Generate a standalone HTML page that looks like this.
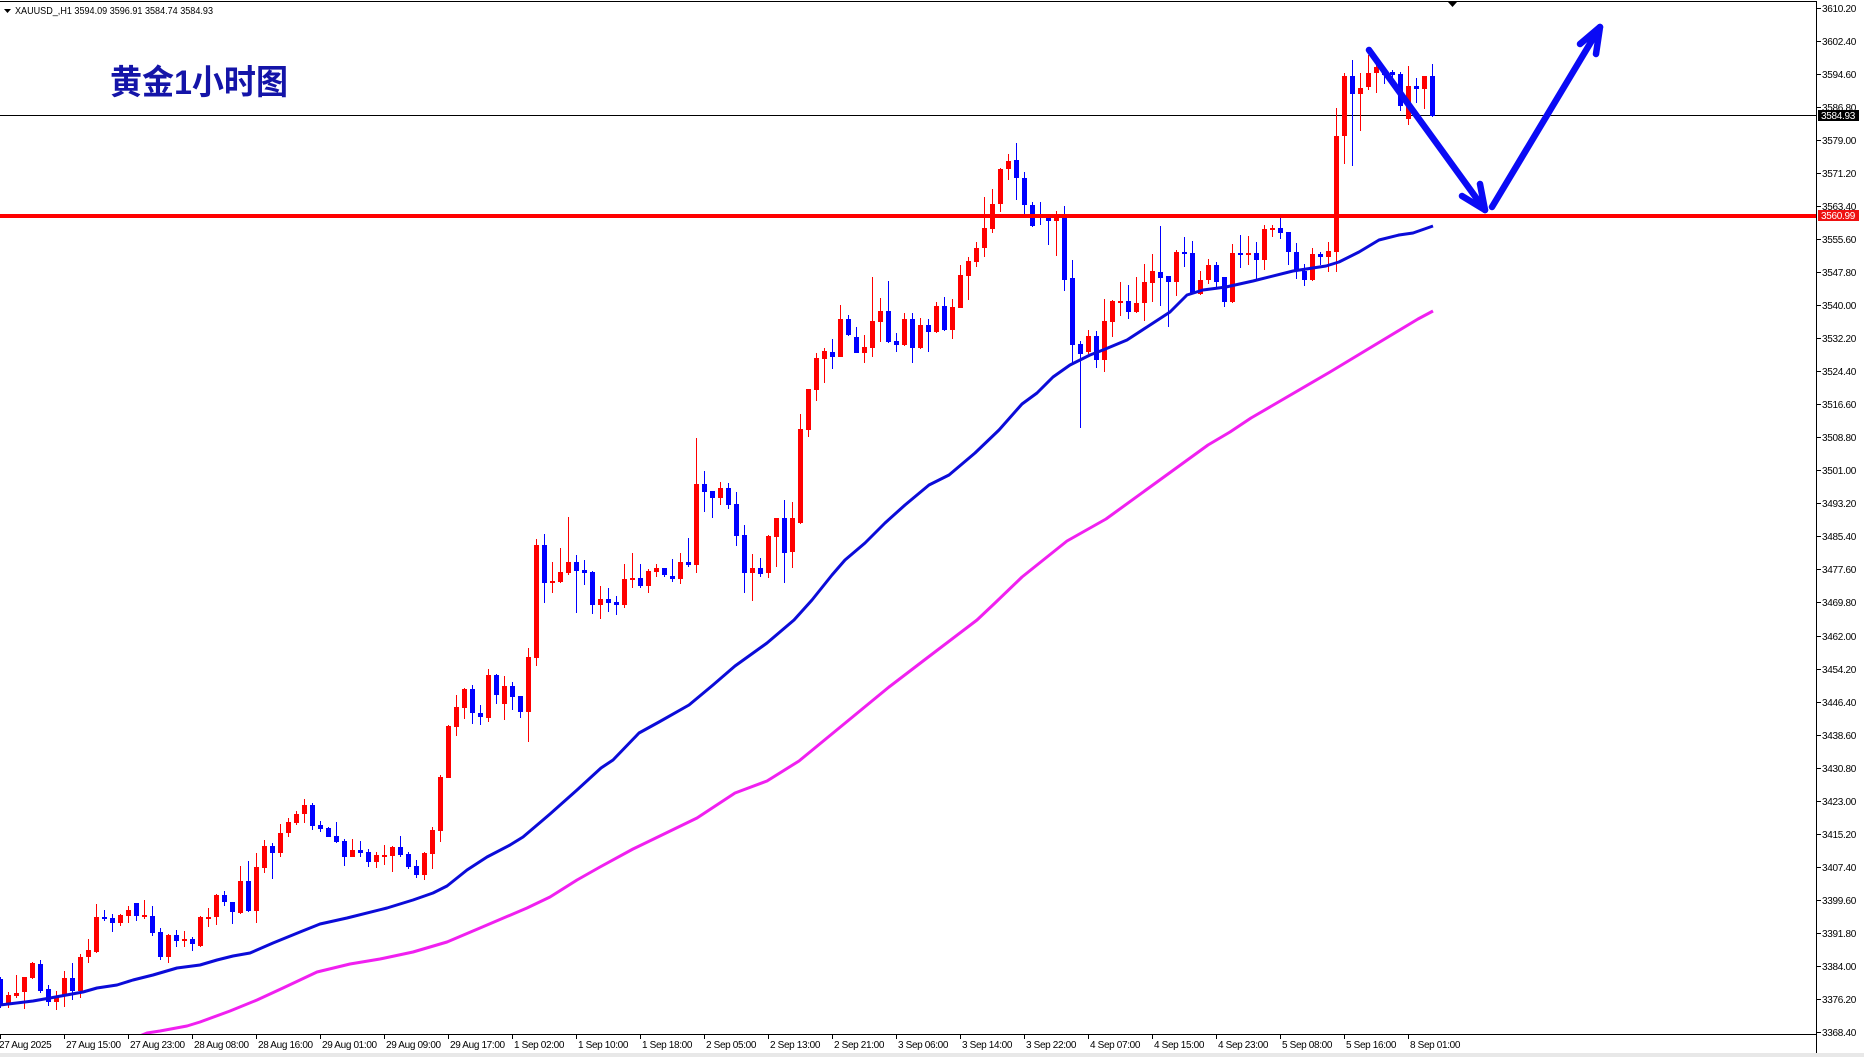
<!DOCTYPE html>
<html><head><meta charset="utf-8"><style>
html,body{margin:0;padding:0;background:#fff;}
svg{display:block;}
.ax{font-family:"Liberation Sans",sans-serif;font-size:10px;fill:#000;letter-spacing:-0.35px;}
.px{font-family:"Liberation Sans",sans-serif;font-size:10px;fill:#000;letter-spacing:-0.3px;}
</style></head><body>
<svg width="1864" height="1057" viewBox="0 0 1864 1057" xmlns="http://www.w3.org/2000/svg">
<defs><clipPath id="c"><rect x="0" y="2" width="1816" height="1032"/></clipPath></defs>
<rect width="1864" height="1057" fill="#fff"/>
<rect x="0" y="1053" width="1864" height="4" fill="#e8e8e8"/>

<!-- frame -->
<rect x="0" y="1" width="1817" height="1" fill="#000"/>
<rect x="1816" y="1" width="1" height="1052" fill="#000"/>
<rect x="0" y="1034" width="1817" height="1" fill="#000"/>
<polygon points="1448,2 1457,2 1452.5,7" fill="#000"/>

<!-- header -->
<polygon points="4,9 11,9 7.5,13" fill="#000"/>
<text x="15" y="14" font-family="Liberation Sans,sans-serif" font-size="10" textLength="198" lengthAdjust="spacingAndGlyphs">XAUUSD_,H1  3594.09 3596.91 3584.74 3584.93</text>
<text x="110" y="94" font-family="'Liberation Sans','Noto Sans CJK SC',sans-serif" font-size="34" font-weight="bold" fill="#1414a8" textLength="178" lengthAdjust="spacingAndGlyphs">黄金1小时图</text>

<g clip-path="url(#c)">
<!-- current price line -->
<rect x="0" y="115" width="1816" height="1" fill="#000"/>

<!-- red candles -->
<path fill="#ff0000" d="M8 992h1v16h-1zM6 995h5v8h-5zM16 975h1v23h-1zM14 993h5v3h-5zM24 977h1v32h-1zM22 977h5v15h-5zM32 962h1v17h-1zM30 963h5v15h-5zM56 991h1v19h-1zM54 997h5v5h-5zM64 971h1v36h-1zM62 978h5v17h-5zM80 954h1v44h-1zM78 957h5v34h-5zM88 939h1v24h-1zM86 950h5v7h-5zM96 904h1v49h-1zM94 917h5v35h-5zM120 914h1v12h-1zM118 915h5v8h-5zM128 906h1v17h-1zM126 910h5v6h-5zM144 900h1v19h-1zM142 915h5v2h-5zM168 934h1v29h-1zM166 935h5v22h-5zM184 931h1v16h-1zM182 939h5v2h-5zM200 916h1v31h-1zM198 917h5v29h-5zM208 908h1v19h-1zM206 917h5v2h-5zM216 894h1v31h-1zM214 895h5v22h-5zM240 866h1v48h-1zM238 881h5v32h-5zM256 853h1v70h-1zM254 867h5v44h-5zM264 840h1v33h-1zM262 846h5v22h-5zM280 824h1v33h-1zM278 833h5v20h-5zM288 818h1v19h-1zM286 822h5v11h-5zM296 811h1v14h-1zM294 814h5v9h-5zM304 799h1v24h-1zM302 805h5v9h-5zM352 839h1v18h-1zM350 850h5v7h-5zM376 852h1v16h-1zM374 855h5v7h-5zM384 845h1v20h-1zM382 855h5v2h-5zM392 846h1v26h-1zM390 847h5v9h-5zM424 852h1v28h-1zM422 853h5v22h-5zM432 827h1v42h-1zM430 830h5v24h-5zM440 775h1v67h-1zM438 777h5v54h-5zM448 725h1v53h-1zM446 726h5v52h-5zM456 695h1v41h-1zM454 707h5v20h-5zM464 688h1v31h-1zM462 689h5v19h-5zM488 669h1v53h-1zM486 675h5v43h-5zM504 676h1v44h-1zM502 686h5v18h-5zM528 648h1v94h-1zM526 657h5v55h-5zM536 539h1v127h-1zM534 545h5v113h-5zM552 562h1v31h-1zM550 581h5v2h-5zM560 548h1v35h-1zM558 572h5v10h-5zM568 517h1v58h-1zM566 562h5v11h-5zM600 586h1v33h-1zM598 599h5v6h-5zM624 564h1v44h-1zM622 579h5v26h-5zM632 553h1v35h-1zM630 578h5v2h-5zM648 569h1v24h-1zM646 571h5v15h-5zM656 564h1v13h-1zM654 568h5v4h-5zM680 553h1v31h-1zM678 562h5v17h-5zM696 438h1v135h-1zM694 484h5v81h-5zM720 482h1v23h-1zM718 488h5v10h-5zM752 554h1v47h-1zM750 568h5v5h-5zM768 535h1v43h-1zM766 536h5v37h-5zM776 518h1v49h-1zM774 518h5v19h-5zM792 502h1v66h-1zM790 518h5v34h-5zM800 414h1v110h-1zM798 429h5v94h-5zM808 389h1v48h-1zM806 389h5v41h-5zM816 353h1v48h-1zM814 358h5v32h-5zM824 348h1v35h-1zM822 351h5v8h-5zM840 305h1v52h-1zM838 319h5v38h-5zM864 335h1v28h-1zM862 347h5v6h-5zM872 277h1v80h-1zM870 321h5v27h-5zM880 298h1v44h-1zM878 311h5v11h-5zM904 313h1v33h-1zM902 319h5v26h-5zM920 318h1v31h-1zM918 325h5v23h-5zM936 302h1v31h-1zM934 306h5v26h-5zM952 299h1v40h-1zM950 307h5v23h-5zM960 265h1v43h-1zM958 275h5v33h-5zM968 257h1v43h-1zM966 261h5v15h-5zM976 242h1v25h-1zM974 248h5v14h-5zM984 197h1v60h-1zM982 228h5v20h-5zM992 189h1v44h-1zM990 204h5v25h-5zM1000 168h1v44h-1zM998 169h5v35h-5zM1008 154h1v26h-1zM1006 161h5v8h-5zM1056 211h1v45h-1zM1054 216h5v5h-5zM1088 330h1v24h-1zM1086 336h5v16h-5zM1104 299h1v73h-1zM1102 321h5v39h-5zM1112 300h1v37h-1zM1110 301h5v21h-5zM1120 282h1v34h-1zM1118 301h5v2h-5zM1136 277h1v36h-1zM1134 303h5v9h-5zM1144 264h1v57h-1zM1142 282h5v21h-5zM1152 254h1v48h-1zM1150 271h5v12h-5zM1176 250h1v46h-1zM1174 252h5v30h-5zM1200 271h1v24h-1zM1198 280h5v14h-5zM1208 259h1v25h-1zM1206 265h5v15h-5zM1232 244h1v59h-1zM1230 253h5v49h-5zM1248 236h1v29h-1zM1246 253h5v2h-5zM1264 225h1v45h-1zM1262 229h5v31h-5zM1272 225h1v12h-1zM1270 228h5v2h-5zM1312 248h1v33h-1zM1310 254h5v26h-5zM1328 242h1v30h-1zM1326 251h5v6h-5zM1336 108h1v164h-1zM1334 136h5v116h-5zM1344 73h1v91h-1zM1342 76h5v60h-5zM1360 73h1v58h-1zM1358 88h5v6h-5zM1368 55h1v35h-1zM1366 73h5v14h-5zM1376 58h1v35h-1zM1374 67h5v6h-5zM1408 66h1v59h-1zM1406 86h5v33h-5zM1424 76h1v33h-1zM1422 76h5v13h-5z"/>

<!-- blue candles -->
<path fill="#0000ff" d="M0 977h1v31h-1zM-2 979h5v26h-5zM40 960h1v33h-1zM38 964h5v27h-5zM48 985h1v21h-1zM46 989h5v13h-5zM72 963h1v37h-1zM70 978h5v13h-5zM104 910h1v11h-1zM102 917h5v2h-5zM112 914h1v18h-1zM110 918h5v5h-5zM136 903h1v18h-1zM134 903h5v13h-5zM152 906h1v30h-1zM150 916h5v17h-5zM160 928h1v32h-1zM158 932h5v25h-5zM176 930h1v17h-1zM174 935h5v6h-5zM192 937h1v14h-1zM190 939h5v5h-5zM224 891h1v15h-1zM222 895h5v7h-5zM232 902h1v22h-1zM230 902h5v10h-5zM248 861h1v51h-1zM246 881h5v30h-5zM272 843h1v36h-1zM270 846h5v7h-5zM312 803h1v27h-1zM310 805h5v21h-5zM320 821h1v11h-1zM318 825h5v4h-5zM328 827h1v10h-1zM326 828h5v9h-5zM336 822h1v21h-1zM334 836h5v6h-5zM344 839h1v27h-1zM342 841h5v16h-5zM360 841h1v16h-1zM358 850h5v3h-5zM368 849h1v18h-1zM366 852h5v10h-5zM400 836h1v21h-1zM398 847h5v8h-5zM408 852h1v17h-1zM406 854h5v13h-5zM416 860h1v18h-1zM414 866h5v9h-5zM472 685h1v39h-1zM470 689h5v24h-5zM480 705h1v20h-1zM478 713h5v4h-5zM496 674h1v30h-1zM494 675h5v20h-5zM512 682h1v28h-1zM510 686h5v11h-5zM520 696h1v22h-1zM518 696h5v16h-5zM544 534h1v69h-1zM542 545h5v38h-5zM576 555h1v58h-1zM574 562h5v9h-5zM584 560h1v25h-1zM582 570h5v3h-5zM592 571h1v43h-1zM590 572h5v33h-5zM608 588h1v24h-1zM606 599h5v4h-5zM616 596h1v19h-1zM614 602h5v3h-5zM640 564h1v24h-1zM638 578h5v8h-5zM664 568h1v9h-1zM662 568h5v7h-5zM672 559h1v23h-1zM670 576h5v3h-5zM688 538h1v29h-1zM686 562h5v3h-5zM704 471h1v41h-1zM702 484h5v8h-5zM712 491h1v27h-1zM710 491h5v7h-5zM728 483h1v26h-1zM726 488h5v17h-5zM736 492h1v54h-1zM734 504h5v32h-5zM744 525h1v68h-1zM742 535h5v38h-5zM760 558h1v19h-1zM758 568h5v6h-5zM784 500h1v83h-1zM782 518h5v35h-5zM832 339h1v30h-1zM830 352h5v5h-5zM848 315h1v21h-1zM846 319h5v16h-5zM856 327h1v26h-1zM854 337h5v16h-5zM888 281h1v62h-1zM886 311h5v31h-5zM896 333h1v19h-1zM894 341h5v4h-5zM912 313h1v50h-1zM910 319h5v29h-5zM928 319h1v33h-1zM926 325h5v7h-5zM944 297h1v34h-1zM942 306h5v24h-5zM1016 143h1v57h-1zM1014 160h5v18h-5zM1024 172h1v43h-1zM1022 178h5v27h-5zM1032 202h1v25h-1zM1030 205h5v21h-5zM1040 202h1v23h-1zM1038 216h5v2h-5zM1048 215h1v30h-1zM1046 218h5v3h-5zM1064 206h1v85h-1zM1062 217h5v63h-5zM1072 260h1v103h-1zM1070 278h5v67h-5zM1080 341h1v87h-1zM1078 344h5v10h-5zM1096 331h1v37h-1zM1094 336h5v24h-5zM1128 285h1v34h-1zM1126 301h5v11h-5zM1160 226h1v80h-1zM1158 272h5v6h-5zM1168 276h1v51h-1zM1166 276h5v6h-5zM1184 237h1v30h-1zM1182 252h5v2h-5zM1192 241h1v53h-1zM1190 253h5v41h-5zM1216 262h1v25h-1zM1214 265h5v17h-5zM1224 277h1v30h-1zM1222 277h5v25h-5zM1240 235h1v33h-1zM1238 253h5v2h-5zM1256 242h1v37h-1zM1254 253h5v7h-5zM1280 218h1v21h-1zM1278 228h5v5h-5zM1288 232h1v33h-1zM1286 232h5v20h-5zM1296 243h1v36h-1zM1294 252h5v19h-5zM1304 264h1v22h-1zM1302 271h5v9h-5zM1320 252h1v13h-1zM1318 254h5v3h-5zM1352 60h1v106h-1zM1350 76h5v18h-5zM1384 68h1v16h-1zM1382 72h5v3h-5zM1392 70h1v10h-1zM1390 72h5v3h-5zM1400 72h1v39h-1zM1398 74h5v32h-5zM1416 78h1v25h-1zM1414 86h5v3h-5zM1432 64h1v53h-1zM1430 76h5v40h-5z"/>

<!-- moving averages -->
<polyline fill="none" stroke="#f020f0" stroke-width="3" stroke-linejoin="round" points="120,1045 130,1040 147,1033 160,1031 187,1026 200,1022 230,1011 257,1000 283,988 317,972 350,964 380,959 413,952 447,942 480,928 527,908 550,897 577,880 600,867 633,849 697,818 735,793 767,781 799,761 844,724 889,687 927,658 977,620 995,603 1022,577 1067,541 1106,519 1157,482 1208,445 1230,432 1251,418 1330,372 1418,319 1433,311"/>
<polyline fill="none" stroke="#0b0bd8" stroke-width="3" stroke-linejoin="round" points="0,1005 33,1001 50,998 83,992 97,988 117,985 133,980 153,975 177,968 200,965 217,960 233,956 250,953 273,943 300,932 320,924 347,918 387,908 413,900 433,893 447,886 467,870 487,857 510,845 523,837 543,820 550,814 577,790 601,768 613,760 639,733 659,722 689,705 713,685 735,666 767,643 794,620 812,600 832,575 845,560 865,543 885,523 905,505 929,485 949,475 975,453 999,430 1022,404 1037,393 1053,377 1070,365 1090,355 1103,350 1127,340 1147,327 1170,312 1187,295 1203,290 1226,287 1253,281 1293,271 1326,266 1339,262 1359,252 1379,240 1399,235 1413,233 1433,226"/>
</g>

<!-- support line -->
<rect x="0" y="214" width="1816" height="4" fill="#ff0000"/>

<!-- arrows -->
<g fill="none" stroke="#0a0af5" stroke-width="6.5" stroke-linecap="round" stroke-linejoin="round">
<path d="M1369 50L1485 210"/>
<path d="M1462 196L1485 210L1480 184"/>
<path d="M1492 207L1600 27"/>
<path d="M1580 44L1600 27L1596 54"/>
</g>

<!-- price axis -->
<g fill="#000">
<rect x="1817" y="8" width="4" height="1"/><rect x="1817" y="41" width="4" height="1"/><rect x="1817" y="74" width="4" height="1"/><rect x="1817" y="107" width="4" height="1"/><rect x="1817" y="140" width="4" height="1"/><rect x="1817" y="173" width="4" height="1"/><rect x="1817" y="206" width="4" height="1"/><rect x="1817" y="239" width="4" height="1"/><rect x="1817" y="272" width="4" height="1"/><rect x="1817" y="305" width="4" height="1"/><rect x="1817" y="338" width="4" height="1"/><rect x="1817" y="371" width="4" height="1"/><rect x="1817" y="404" width="4" height="1"/><rect x="1817" y="437" width="4" height="1"/><rect x="1817" y="470" width="4" height="1"/><rect x="1817" y="503" width="4" height="1"/><rect x="1817" y="536" width="4" height="1"/><rect x="1817" y="569" width="4" height="1"/><rect x="1817" y="602" width="4" height="1"/><rect x="1817" y="636" width="4" height="1"/><rect x="1817" y="669" width="4" height="1"/><rect x="1817" y="702" width="4" height="1"/><rect x="1817" y="735" width="4" height="1"/><rect x="1817" y="768" width="4" height="1"/><rect x="1817" y="801" width="4" height="1"/><rect x="1817" y="834" width="4" height="1"/><rect x="1817" y="867" width="4" height="1"/><rect x="1817" y="900" width="4" height="1"/><rect x="1817" y="933" width="4" height="1"/><rect x="1817" y="966" width="4" height="1"/><rect x="1817" y="999" width="4" height="1"/><rect x="1817" y="1032" width="4" height="1"/>
</g>
<g class="px">
<text x="1822" y="12">3610.20</text><text x="1822" y="45">3602.40</text><text x="1822" y="78">3594.60</text><text x="1822" y="111">3586.80</text><text x="1822" y="144">3579.00</text><text x="1822" y="177">3571.20</text><text x="1822" y="210">3563.40</text><text x="1822" y="243">3555.60</text><text x="1822" y="276">3547.80</text><text x="1822" y="309">3540.00</text><text x="1822" y="342">3532.20</text><text x="1822" y="375">3524.40</text><text x="1822" y="408">3516.60</text><text x="1822" y="441">3508.80</text><text x="1822" y="474">3501.00</text><text x="1822" y="507">3493.20</text><text x="1822" y="540">3485.40</text><text x="1822" y="573">3477.60</text><text x="1822" y="606">3469.80</text><text x="1822" y="640">3462.00</text><text x="1822" y="673">3454.20</text><text x="1822" y="706">3446.40</text><text x="1822" y="739">3438.60</text><text x="1822" y="772">3430.80</text><text x="1822" y="805">3423.00</text><text x="1822" y="838">3415.20</text><text x="1822" y="871">3407.40</text><text x="1822" y="904">3399.60</text><text x="1822" y="937">3391.80</text><text x="1822" y="970">3384.00</text><text x="1822" y="1003">3376.20</text><text x="1822" y="1036">3368.40</text>
</g>
<rect x="1818" y="110" width="41" height="11" fill="#000"/>
<text x="1821" y="119" class="px" style="fill:#fff">3584.93</text>
<rect x="1818" y="210" width="41" height="11" fill="#ee1111"/>
<text x="1821" y="219" class="px" style="fill:#fff">3560.99</text>

<!-- time axis -->
<g fill="#000">
<rect x="0" y="1035" width="1" height="4"/><rect x="64" y="1035" width="1" height="4"/><rect x="128" y="1035" width="1" height="4"/><rect x="192" y="1035" width="1" height="4"/><rect x="256" y="1035" width="1" height="4"/><rect x="320" y="1035" width="1" height="4"/><rect x="384" y="1035" width="1" height="4"/><rect x="448" y="1035" width="1" height="4"/><rect x="512" y="1035" width="1" height="4"/><rect x="576" y="1035" width="1" height="4"/><rect x="640" y="1035" width="1" height="4"/><rect x="704" y="1035" width="1" height="4"/><rect x="768" y="1035" width="1" height="4"/><rect x="832" y="1035" width="1" height="4"/><rect x="896" y="1035" width="1" height="4"/><rect x="960" y="1035" width="1" height="4"/><rect x="1024" y="1035" width="1" height="4"/><rect x="1088" y="1035" width="1" height="4"/><rect x="1152" y="1035" width="1" height="4"/><rect x="1216" y="1035" width="1" height="4"/><rect x="1280" y="1035" width="1" height="4"/><rect x="1344" y="1035" width="1" height="4"/><rect x="1408" y="1035" width="1" height="4"/>
</g>
<g class="ax">
<text x="-1" y="1048">27 Aug 2025</text>
<text x="66" y="1048">27 Aug 15:00</text>
<text x="130" y="1048">27 Aug 23:00</text>
<text x="194" y="1048">28 Aug 08:00</text>
<text x="258" y="1048">28 Aug 16:00</text>
<text x="322" y="1048">29 Aug 01:00</text>
<text x="386" y="1048">29 Aug 09:00</text>
<text x="450" y="1048">29 Aug 17:00</text>
<text x="514" y="1048">1 Sep 02:00</text>
<text x="578" y="1048">1 Sep 10:00</text>
<text x="642" y="1048">1 Sep 18:00</text>
<text x="706" y="1048">2 Sep 05:00</text>
<text x="770" y="1048">2 Sep 13:00</text>
<text x="834" y="1048">2 Sep 21:00</text>
<text x="898" y="1048">3 Sep 06:00</text>
<text x="962" y="1048">3 Sep 14:00</text>
<text x="1026" y="1048">3 Sep 22:00</text>
<text x="1090" y="1048">4 Sep 07:00</text>
<text x="1154" y="1048">4 Sep 15:00</text>
<text x="1218" y="1048">4 Sep 23:00</text>
<text x="1282" y="1048">5 Sep 08:00</text>
<text x="1346" y="1048">5 Sep 16:00</text>
<text x="1410" y="1048">8 Sep 01:00</text>
</g>
</svg>
</body></html>
